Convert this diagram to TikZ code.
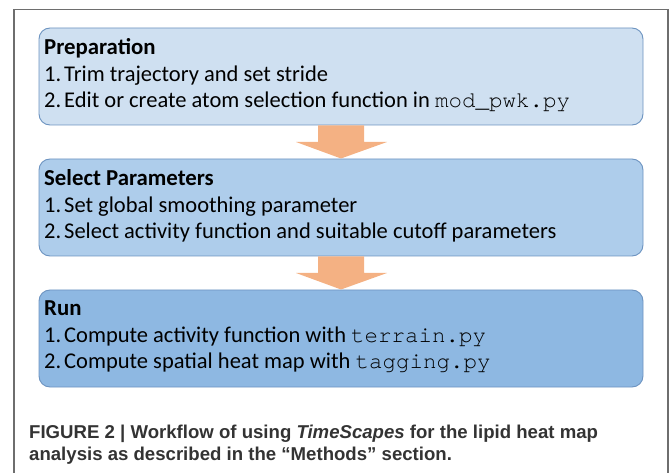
\documentclass[tikz,border=0pt]{standalone}
\usepackage{fontspec}
\setmainfont{Carlito}
\setmonofont{TeX Gyre Cursor}
\newfontfamily\capfont{Liberation Sans}
\definecolor{frameC}{HTML}{6E6E6E}
\definecolor{edgeC}{HTML}{6C93C0}
\definecolor{fillA}{HTML}{CFE0F1}
\definecolor{fillB}{HTML}{AECDEB}
\definecolor{fillC}{HTML}{8EB8E2}
\definecolor{arrC}{HTML}{F4B183}
\definecolor{capC}{HTML}{333333}
\tikzset{
  stagebox/.style={draw=edgeC, line width=0.9pt, rounded corners=11pt},
  arrowshape/.style={fill=arrC, draw=none},
  ttl/.style={anchor=base west, inner sep=0pt, font=\fontsize{22.8}{27}\selectfont\bfseries},
  itm/.style={anchor=base west, inner sep=0pt, font=\fontsize{22.5}{27}\selectfont},
  captext/.style={anchor=base west, inner sep=0pt, font=\fontsize{18.6}{22}\selectfont\capfont\bfseries, text=capC},
}
\newcommand{\num}[1]{\makebox[20pt][l]{#1}}
\begin{document}
\begin{tikzpicture}[x=1pt,y=-1pt]
\useasboundingbox (0,0) rectangle (670,473);
\draw[frameC, line width=1.3pt] (14,473) -- (14,9.5) -- (668,9.5) -- (668,473);
% boxes
\draw[stagebox, fill=fillA] (39,28) rectangle (643,125);
\draw[stagebox, fill=fillB] (39,159) rectangle (643,256);
\draw[stagebox, fill=fillC] (39,290) rectangle (643,387);
% arrows
\fill[arrowshape] (318,125.5) -- (364,125.5) -- (364,142) -- (387,142) -- (341,158.5) -- (296,142) -- (318,142) -- cycle;
\fill[arrowshape] (318,256.5) -- (364,256.5) -- (364,273) -- (387,273) -- (341,289.5) -- (296,273) -- (318,273) -- cycle;
% texts box 1
\node[ttl] (t1) at (44,55) {Preparation};
\node[itm] (a1) at (44,82) {\num{1.}Trim trajectory and set stride};
\node[itm] (a2) at (44,108) {\num{2.}Edit or create atom selection function in \texttt{mod\_pwk.py}};
% box 2
\node[ttl] (t2) at (44,186) {Select Parameters};
\node[itm] (b1) at (44,213) {\num{1.}Set global smoothing parameter};
\node[itm] (b2) at (44,239) {\num{2.}Select activity function and suitable cutoff parameters};
% box 3
\node[ttl] (t3) at (44,316) {Run};
\node[itm] (c1) at (44,343) {\num{1.}Compute activity function with \texttt{terrain.py}};
\node[itm] (c2) at (44,369) {\num{2.}Compute spatial heat map with \texttt{tagging.py}};
% caption
\node[captext] (k1) at (29,438) {FIGURE 2 | Workflow of using \textit{TimeScapes} for the lipid heat map};
\node[captext] (k2) at (29,460) {analysis as described in the \textquotedblleft Methods\textquotedblright\ section.};
\end{tikzpicture}
\end{document}
